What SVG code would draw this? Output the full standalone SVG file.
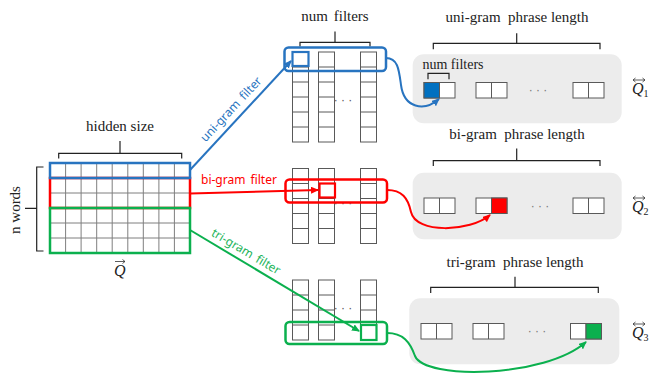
<svg xmlns="http://www.w3.org/2000/svg" width="650" height="374" viewBox="0 0 650 374">
<style>
.lbl{font-family:"Liberation Serif","DejaVu Serif",serif;font-size:15px;fill:#222;text-anchor:middle}
.sm{font-size:14px}
.q{font-family:"Liberation Serif","DejaVu Serif",serif;font-style:italic;font-size:16px;fill:#222}
.qs{font-family:"Liberation Serif",serif;font-size:10px;font-style:normal}
.flt{font-family:"Noto Sans","Liberation Sans",sans-serif;font-size:12px;word-spacing:2px}
.brace{fill:none;stroke:#222;stroke-width:1.2}
.grid{fill:none;stroke:#7f7f7f;stroke-width:1}
.cell{fill:#fff;stroke:#595959;stroke-width:1}
.panel{fill:#ececec}
.dots{font-family:"Liberation Sans",sans-serif;font-size:12px;fill:#777;text-anchor:middle}
.blue{stroke:#2874c0}
.red{stroke:#f00}
.green{stroke:#0bb04e}
.box{fill:none;stroke-width:2.5}
.conn{fill:none;stroke-width:2}
.qarrow{fill:none;stroke:#333;stroke-width:0.8}
</style>
<defs>
<g id="c6"><rect width="16" height="90"/><path d="M0,15h16M0,30h16M0,45h16M0,60h16M0,75h16"/></g>
<g id="c5"><rect width="16" height="75"/><path d="M0,15h16M0,30h16M0,45h16M0,60h16"/></g>
<g id="c4"><rect width="16" height="60"/><path d="M0,15h16M0,30h16M0,45h16"/></g>
<g id="pair"><rect width="31" height="15.5"/><path d="M15.5,0v15.5"/></g>
<marker id="mb" viewBox="0 0 8 7" refX="7" refY="3.5" markerWidth="8" markerHeight="7" markerUnits="userSpaceOnUse" orient="auto"><path d="M0,0L8,3.5L0,7z" fill="#2874c0"/></marker>
<marker id="mr" viewBox="0 0 8 7" refX="7" refY="3.5" markerWidth="8" markerHeight="7" markerUnits="userSpaceOnUse" orient="auto"><path d="M0,0L8,3.5L0,7z" fill="#f00"/></marker>
<marker id="mg" viewBox="0 0 8 7" refX="7" refY="3.5" markerWidth="8" markerHeight="7" markerUnits="userSpaceOnUse" orient="auto"><path d="M0,0L8,3.5L0,7z" fill="#0bb04e"/></marker>
</defs>

<g id="input-matrix">
<text class="lbl" x="120" y="131">hidden size</text>
<path class="brace" d="M58.7,158.5V153.3H181.7V158.5M120,153.3V141"/>
<text class="lbl" transform="translate(19.5,210) rotate(-90)">n words</text>
<path class="brace" d="M43.5,167H36.7V251H43.5M36.7,208.3H25"/>
<rect x="50" y="163" width="140" height="90" fill="#fff"/>
<path class="grid" d="M65.6,163V253M81.1,163V253M96.7,163V253M112.2,163V253M127.8,163V253M143.3,163V253M158.9,163V253M174.4,163V253M50,193H190M50,223H190M50,238H190"/>
<rect class="box red" x="50" y="178" width="140" height="30"/>
<rect class="box blue" x="50" y="163" width="140" height="15"/>
<rect class="box green" x="50" y="208" width="140" height="45"/>
<text class="q" x="114" y="276">Q</text>
<path class="qarrow" d="M115,261.5h10M122.5,259.5l2.5,2l-2.5,2"/>
</g>

<g id="unigram-filters">
<text class="lbl" x="335" y="21" style="word-spacing:2px">num filters</text>
<path class="brace" d="M300,46.5V42.3H370V46.5M335,42.3V31.5"/>
<g class="cell"><use href="#c6" x="292.5" y="52"/><use href="#c6" x="318.5" y="52"/><use href="#c6" x="360.5" y="52"/></g>
<text class="dots" x="343" y="104" style="fill:#555">· · ·</text>
<rect class="box blue" x="292.5" y="52" width="16" height="14" style="stroke-width:2.2"/>
<rect class="box blue" x="284.5" y="47.5" width="101.5" height="23.5" rx="4"/>
</g>

<g id="bigram-filters">
<g class="cell"><use href="#c5" x="292.5" y="168.5"/><use href="#c5" x="318.5" y="168.5"/><use href="#c5" x="360.5" y="168.5"/></g>
<text class="dots" x="343" y="207" style="fill:#555">· · ·</text>
<rect class="box red" x="319.5" y="183.5" width="15.5" height="14" style="stroke-width:2.2"/>
<rect class="box red" x="285.5" y="179.5" width="101.5" height="23" rx="4"/>
</g>

<g id="trigram-filters">
<g class="cell"><use href="#c4" x="292.5" y="280"/><use href="#c4" x="318.5" y="280"/><use href="#c4" x="360.5" y="280"/></g>
<text class="dots" x="343" y="312" style="fill:#555">· · ·</text>
<rect class="box green" x="361" y="325" width="15.5" height="15" style="stroke-width:2.2"/>
<rect class="box green" x="285.5" y="322" width="101.5" height="22" rx="4"/>
</g>

<g id="unigram-phrase">
<text class="lbl" x="517" y="22" xml:space="preserve">uni-gram  phrase length</text>
<path class="brace" d="M433.3,49.3V43.3H600V49.3M516.7,43.3V33.3"/>
<rect class="panel" x="412.7" y="54.3" width="209" height="69" rx="11"/>
<text class="lbl sm" x="453" y="68.5">num filters</text>
<path class="brace" d="M428,79.3V73.3H449V79.3"/>
<g class="cell"><use href="#pair" x="424" y="82.5"/><use href="#pair" x="476" y="82.5"/><use href="#pair" x="573" y="82.5"/></g>
<rect x="424" y="82.5" width="15.5" height="15.5" fill="#0070c0" stroke="#595959"/>
<text class="dots" x="538" y="94">· · ·</text>
<text class="q" x="632" y="94">Q<tspan class="qs" dy="3">1</tspan></text>
<path class="qarrow" d="M633,80h12M635.5,78l-2.5,2l2.5,2M642.5,78l2.5,2l-2.5,2"/>
</g>

<g id="bigram-phrase">
<text class="lbl" x="517" y="139" xml:space="preserve">bi-gram  phrase length</text>
<path class="brace" d="M433.3,166V160.7H600V166M516.7,160.7V148.5"/>
<rect class="panel" x="412.7" y="172.7" width="209" height="66.5" rx="11"/>
<g class="cell"><use href="#pair" x="424" y="198"/><use href="#pair" x="476" y="198"/><use href="#pair" x="573" y="198"/></g>
<rect x="491.5" y="198" width="15.5" height="15.5" fill="#f00" stroke="#595959"/>
<text class="dots" x="540" y="210">· · ·</text>
<text class="q" x="632" y="212">Q<tspan class="qs" dy="3">2</tspan></text>
<path class="qarrow" d="M633,198h12M635.5,196l-2.5,2l2.5,2M642.5,196l2.5,2l-2.5,2"/>
</g>

<g id="trigram-phrase">
<text class="lbl" x="515" y="267" xml:space="preserve">tri-gram  phrase length</text>
<path class="brace" d="M430.7,293V287.3H598.3V293M515,287.3V276.7"/>
<rect class="panel" x="409.3" y="298.3" width="210" height="66" rx="11"/>
<g class="cell"><use href="#pair" x="421" y="323.5"/><use href="#pair" x="473" y="323.5"/><use href="#pair" x="570.5" y="323.5"/></g>
<rect x="586" y="323.5" width="15.5" height="15.5" fill="#0bb04e" stroke="#595959"/>
<text class="dots" x="537" y="335">· · ·</text>
<text class="q" x="632" y="338">Q<tspan class="qs" dy="3">3</tspan></text>
<path class="qarrow" d="M633,324h12M635.5,322l-2.5,2l2.5,2M642.5,322l2.5,2l-2.5,2"/>
</g>

<g id="connectors">
<path class="conn blue" d="M190,170L291,61" marker-end="url(#mb)"/>
<text class="flt" fill="#2874c0" text-anchor="middle" transform="translate(234,112) rotate(-47)">uni-gram filter</text>
<path class="conn red" d="M190,193.5L318,190" marker-end="url(#mr)"/>
<text class="flt" fill="#f00" x="201" y="184">bi-gram filter</text>
<path class="conn green" d="M190,230L359,331" marker-end="url(#mg)"/>
<text class="flt" fill="#1db45a" text-anchor="middle" transform="translate(244,255) rotate(30.7)">tri-gram filter</text>
<path class="conn blue" d="M386,58C398,58 399,70 401,85C404,108 424,112 439,99" marker-end="url(#mb)"/>
<path class="conn red" d="M387,190C402,190 408,198 411,212C416,234 470,232 490,215" marker-end="url(#mr)"/>
<path class="conn green" d="M387,333C403,333 410,342 415,356C425,380 545,378 586,342" marker-end="url(#mg)"/>
</g>
</svg>
